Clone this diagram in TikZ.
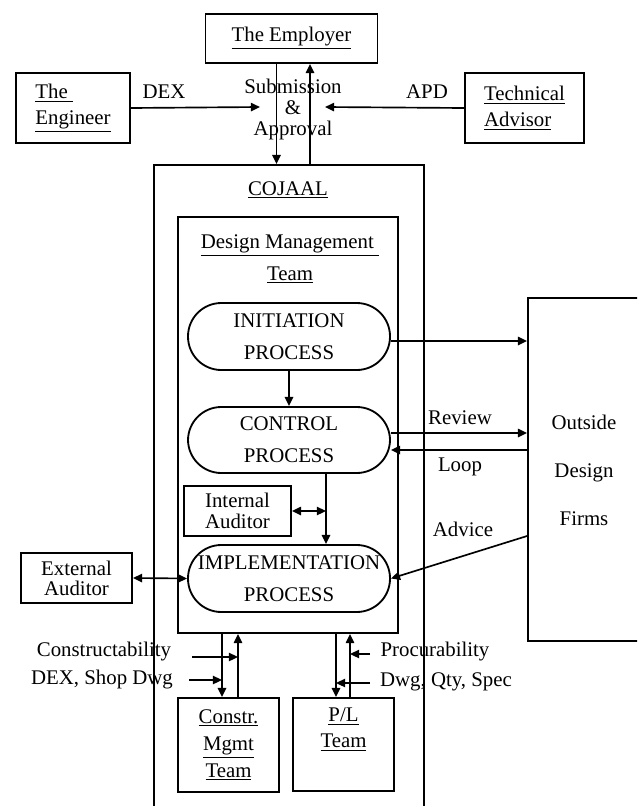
\documentclass[tikz,border=0pt]{standalone}
\usepackage{fontspec}
\setmainfont{Liberation Serif}
\usetikzlibrary{arrows.meta}

\begin{document}
\begin{tikzpicture}[x = 0.6pt, y = -0.6pt,
						line width = 1pt,
						> = {Triangle[length = 5.5pt, width = 5pt]},
						box/.style = {draw, line width = 1.1pt, inner sep = 0pt, align = center,
							font = \fontsize{12.5}{15.6}\selectfont},
						process/.style = {box, rounded corners = 20pt, minimum width = 121.2pt,
							minimum height = 40.2pt, font = \fontsize{12.5}{19.2}\selectfont},
						txt/.style = {inner sep = 0pt, align = center, font = \fontsize{12.5}{15.6}\selectfont},
						]
	
		% Page frame
		\useasboundingbox (0, 0) rectangle (637, 806);
		\clip (0, 0) rectangle (637, 806);
		
		% Outside parties
		\node[box, minimum width = 103.2pt, minimum height = 29.4pt] (employer) at (291.5, 38.5) {\underline{The Employer}};
		\node[box, align = left, minimum width = 68.4pt, minimum height = 42pt] (engineer) at (73, 108) {\underline{The\ }\\\underline{Engineer}};
		\node[box, align = left, minimum width = 71.4pt, minimum height = 42pt] (techadv) at (524.5, 108) {\underline{Technical}\\\underline{Advisor}};
		\node[txt, font = \fontsize{12.5}{12.6}\selectfont] (subm) at (293, 109) {Submission\\\&\\Approval};
		\node[txt] (dexlbl) at (164, 92) {DEX};
		\node[txt] (apdlbl) at (427, 92) {APD};
		
		% COJAAL and design management team
		\node[box, minimum width = 162pt, minimum height = 441pt] (cojaal) at (289, 532.5) {};
		\node[txt] (cojaallbl) at (288, 190) {\underline{COJAAL}};
		\node[box, minimum width = 132pt, minimum height = 249.6pt] (dmt) at (288, 425) {};
		\node[txt, font = \fontsize{12.5}{19.2}\selectfont] (dmtlbl) at (290, 259) {\underline{Design Management\ }\\\underline{Team}};
		
		% Processes
		\node[process] (initiation) at (289, 336.5) {INITIATION\\PROCESS};
		\node[process, minimum height = 39.6pt] (control) at (289, 440) {CONTROL\\PROCESS};
		\node[process] (impl) at (289, 578.5) {IMPLEMENTATION\\PROCESS};
		
		% Auditors
		\node[box, minimum width = 64.2pt, minimum height = 30pt, font = \fontsize{12.5}{12.6}\selectfont] (internal) at (237.5, 511) {Internal\\Auditor};
		\node[box, minimum width = 66.6pt, minimum height = 30pt, font = \fontsize{12.5}{12}\selectfont] (external) at (76.5, 578) {External\\Auditor};
		
		% Outside design firms
		\node[box, minimum width = 91.2pt, minimum height = 205.8pt] (outside) at (604, 469.5) {};
		\node[txt, font = \fontsize{12.5}{28.8}\selectfont] (outsidelbl) at (584, 470) {Outside\\Design\\Firms};
		\node[txt] (reviewlbl) at (460, 418) {Review};
		\node[txt] (looplbl) at (460, 467) {Loop};
		\node[txt] (advicelbl) at (463, 529) {Advice};
		
		% Site teams
		\node[box, minimum width = 60.6pt, minimum height = 56.4pt, font = \fontsize{12.5}{16.2}\selectfont] (constr) at (228.5, 745) {\underline{Constr.}\\\underline{Mgmt}\\\underline{Team}};
		\node[box, minimum width = 60.6pt, minimum height = 55.8pt,
			label = {[txt, anchor = north, yshift = -6pt]north:{\underline{P/L}\\\underline{Team}}}] (pl) at (343.5, 744.5) {};
		\node[txt] (constrlbl) at (104, 652) {Constructability};
		\node[txt] (dexshoplbl) at (102, 680) {DEX, Shop Dwg};
		\node[txt] (proclbl) at (435, 652) {Procurability};
		\node[txt] (dwglbl) at (446, 682) {Dwg, Qty, Spec};
		
		% Submission and approval
		\coordinate (edown) at ([xshift = -9pt]employer.south);
		\coordinate (eup) at ([xshift = 11.1pt]employer.south);
		\draw[->] (edown) -- (edown |- cojaal.north);
		\draw[->] (eup |- cojaal.north) -- (eup);
		
		\coordinate (dexend) at (260, 107);
		\coordinate (apdend) at (325, 107);
		\draw[->] (engineer.east) -- (dexend);
		\draw[->] (techadv.west) -- (apdend);
		
		% Process flow
		\draw[->] (initiation.south) -- (initiation.south |- control.north);
		\coordinate (cimp) at ([xshift = 22.2pt]control.south);
		\draw[->] (cimp) -- (cimp |- impl.north);
		\draw[<->] (internal.east) -- (internal.east -| cimp);
		\draw[<->] (external.east) -- (impl.west);
		
		% Links to outside design firms
		\coordinate (initout) at ([yshift = -2.7pt]initiation.east);
		\draw[->] (initout) -- (initout -| outside.west);
		\coordinate (revstart) at ([yshift = 4.2pt]control.east);
		\draw[->] (revstart) -- (revstart -| outside.west);
		\coordinate (loopend) at ([yshift = -6pt]control.east);
		\draw[->] (loopend -| outside.west) -- (loopend);
		\coordinate (advstart) at ([yshift = -39.9pt]outside.west);
		\draw[->] (advstart) -- (impl.east);
		
		% Links to site teams
		\coordinate (cdown) at ([xshift = -3.9pt]constr.north);
		\coordinate (cup) at ([xshift = 5.7pt]constr.north);
		\coordinate (pdown) at ([xshift = -4.5pt]pl.north);
		\coordinate (pup) at ([xshift = 3.9pt]pl.north);
		\draw[->] (cdown |- dmt.south) -- (cdown);
		\draw[->] (cup) -- (cup |- dmt.south);
		\draw[->] (pdown |- dmt.south) -- (pdown);
		\draw[->] (pup) -- (pup |- dmt.south);
		
		\coordinate (consstart) at (192, 657);
		\coordinate (dexshopstart) at (189, 680);
		\coordinate (procstart) at (370, 654);
		\coordinate (dwgstart) at (370, 683);
		\draw[->] (consstart) -- (consstart -| cup);
		\draw[->] (dexshopstart) -- (dexshopstart -| cdown);
		\draw[->] (procstart) -- (procstart -| pup);
		\draw[->] (dwgstart) -- (dwgstart -| pdown);
		
	\end{tikzpicture}
\end{document}
